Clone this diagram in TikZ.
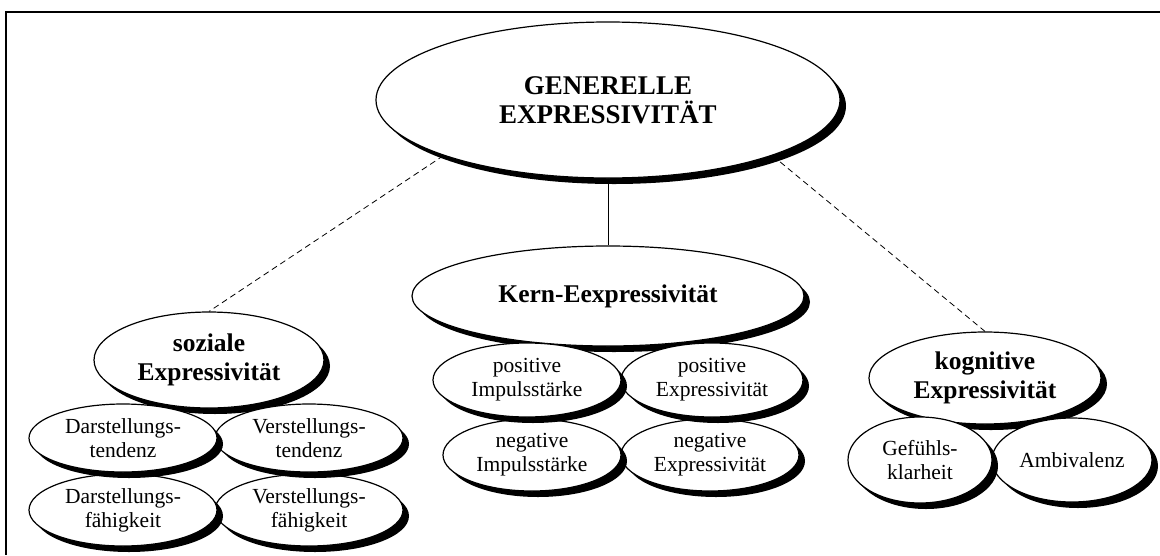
\documentclass[tikz,border=0pt]{standalone}
\usepackage{fontspec}
\setmainfont{Liberation Serif}
\usepackage{tikz}
\usetikzlibrary{positioning}
\usetikzlibrary{shapes,shadows}

\begin{document}
\begin{tikzpicture}
            [
            x=1pt, y=-1pt,
            vertex/.style={ellipse,draw,line width=1.2pt,fill=white,inner sep=0pt,align=center,
                font=\fontsize{21.5}{24}\selectfont,
                drop shadow={shadow xshift=6pt,shadow yshift=-6pt,fill=black,opacity=1}},
            bigvertex/.style={vertex,font=\fontsize{25.5}{29}\selectfont\bfseries},
            edge/.style={line width=0.8pt},
            dashededge/.style={edge,dash pattern=on 6pt off 4pt}
            ]
        \useasboundingbox (0,0) rectangle (1160,555);
        \draw[line width=2pt] (1160,12) -- (6,12) -- (6,555);
        \node[bigvertex,font=\fontsize{27}{29}\selectfont\bfseries,minimum width=464pt,minimum height=156pt] (1) at (608,100) {GENERELLE\\EXPRESSIVITÄT};
        \node[bigvertex,minimum width=392pt,minimum height=100pt] (2) at (608,296) {Kern-Eexpressivität};
        \node[vertex,minimum width=178pt,minimum height=72pt] (21) at (710,455) {negative\\Expressivität};
        \node[vertex,minimum width=178pt,minimum height=72pt] (22) at (532,455) {negative\\Impulsstärke};
        \node[vertex,minimum width=182pt,minimum height=74pt] (23) at (712,380) {positive\\Expressivität};
        \node[vertex,minimum width=188pt,minimum height=74pt] (24) at (527,380) {positive\\Impulsstärke};
        \node[bigvertex,minimum width=230pt,minimum height=96pt] (3) at (209,360) {soziale\\Expressivität};
        \node[vertex,minimum width=188pt,minimum height=72pt] (31) at (309,510) {Verstellungs-\\fähigkeit};
        \node[vertex,minimum width=188pt,minimum height=72pt] (32) at (123,510) {Darstellungs-\\fähigkeit};
        \node[vertex,minimum width=188pt,minimum height=68pt] (33) at (309,438) {Verstellungs-\\tendenz};
        \node[vertex,minimum width=188pt,minimum height=68pt] (34) at (123,438) {Darstellungs-\\tendenz};
        \node[bigvertex,minimum width=232pt,minimum height=92pt] (4) at (985,378) {kognitive\\Expressivität};
        \node[vertex,minimum width=160pt,minimum height=84pt] (41) at (1072,460) {Ambivalenz};
        \node[vertex,minimum width=144pt,minimum height=86pt] (42) at (920,460) {Gefühls-\\klarheit};
        \draw[edge] (1.south) -- (2.north);
        \draw[dashededge] (1.south west) -- (3.north);
        \draw[dashededge] (1.south east) -- (4.north);
        \end{tikzpicture}
\end{document}
